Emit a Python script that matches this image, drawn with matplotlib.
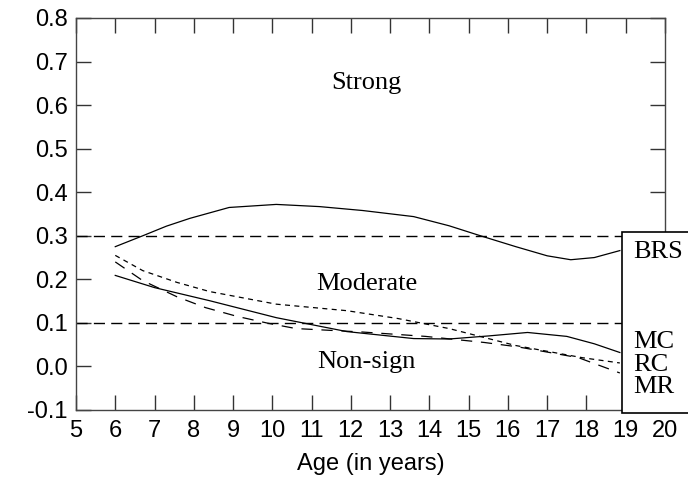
import numpy as np
import matplotlib.pyplot as plt
from matplotlib.patches import Rectangle

# curves (age, coefficient)
brs_age = [6.0, 6.7, 7.3, 7.9, 8.9, 10.1, 11.2, 12.3, 13.6, 14.5, 15.3, 16.2, 17.0, 17.6, 18.2, 18.85]
brs_val = [0.275, 0.300, 0.322, 0.340, 0.365, 0.372, 0.367, 0.358, 0.344, 0.323, 0.300, 0.275, 0.254, 0.245, 0.250, 0.266]

mc_age = [6.0, 7.0, 8.4, 10.1, 11.9, 13.6, 14.5, 15.5, 16.5, 17.5, 18.2, 18.85]
mc_val = [0.209, 0.181, 0.151, 0.112, 0.080, 0.064, 0.063, 0.070, 0.078, 0.069, 0.052, 0.032]

rc_age = [6.0, 6.7, 7.57, 8.4, 10.1, 11.9, 13.2, 14.5, 16.2, 17.9, 18.85]
rc_val = [0.255, 0.220, 0.193, 0.172, 0.143, 0.128, 0.110, 0.087, 0.048, 0.020, 0.008]

mr_age = [6.0, 6.7, 7.57, 8.3, 9.1, 9.9, 10.6, 11.45, 12.3, 13.1, 13.9, 15.4, 16.25, 17.0, 17.8, 18.55, 18.85]
mr_val = [0.240, 0.197, 0.160, 0.135, 0.115, 0.099, 0.087, 0.083, 0.079, 0.074, 0.069, 0.055, 0.045, 0.033, 0.020, -0.005, -0.015]

thresholds = [0.3, 0.1]
zones = ['Strong', 'Moderate', 'Non-sign']
zone_y = [0.651, 0.19, 0.011]
labels = ['BRS', 'MC', 'RC', 'MR']
label_y = [0.263, 0.055, 0.003, -0.048]

xticks = list(range(5, 21))
yticks = [-0.1, 0.0, 0.1, 0.2, 0.3, 0.4, 0.5, 0.6, 0.7, 0.8]

sans = 'Liberation Sans'
serif = 'Liberation Serif'

fig = plt.figure(figsize=(6.88, 4.84), dpi=100)
ax = fig.add_axes([76/688, 1-410/484, (665-76)/688, (410-18)/484])

for t in thresholds:
    ax.plot([5, 18.9], [t, t], color='black', lw=1.0, dashes=(8, 4.5))

ax.plot(brs_age, brs_val, color='black', lw=0.9)
ax.plot(mc_age, mc_val, color='black', lw=0.9)
ax.plot(rc_age, rc_val, color='black', lw=0.9, dashes=(4, 3.5))
ax.plot(mr_age, mr_val, color='black', lw=0.9, dashes=(9, 7))

for z, zy in zip(zones, zone_y):
    ax.text(12.4, zy, z, ha='center', va='center', family=serif, fontsize=19)

box = Rectangle((18.9, -0.106), 2.0, 0.415, facecolor='white', edgecolor='black',
                lw=1.2, clip_on=False, zorder=5)
ax.add_patch(box)
for lab, ly in zip(labels, label_y):
    ax.text(19.2, ly, lab, ha='left', va='center', family=serif, fontsize=19,
            zorder=6, clip_on=False)

ax.set_xlim(5, 20)
ax.set_ylim(-0.1, 0.8)
ax.set_xticks(xticks)
ax.set_xticklabels([str(v) for v in xticks])
ax.set_yticks(yticks)
ax.set_yticklabels(['{:.1f}'.format(v) for v in yticks])
ax.tick_params(axis='both', direction='in', top=True, right=True, length=11,
               width=1.0, color='#333333', labelsize=17)
ax.tick_params(axis='x', pad=7)
ax.tick_params(axis='y', pad=6)
for lab in ax.get_xticklabels() + ax.get_yticklabels():
    lab.set_family(sans)
for s in ax.spines.values():
    s.set_color('#444444')
    s.set_linewidth(1.0)
ax.set_xlabel('Age (in years)', family=sans, fontsize=17, labelpad=8)

fig.savefig('out.png', dpi=100)
